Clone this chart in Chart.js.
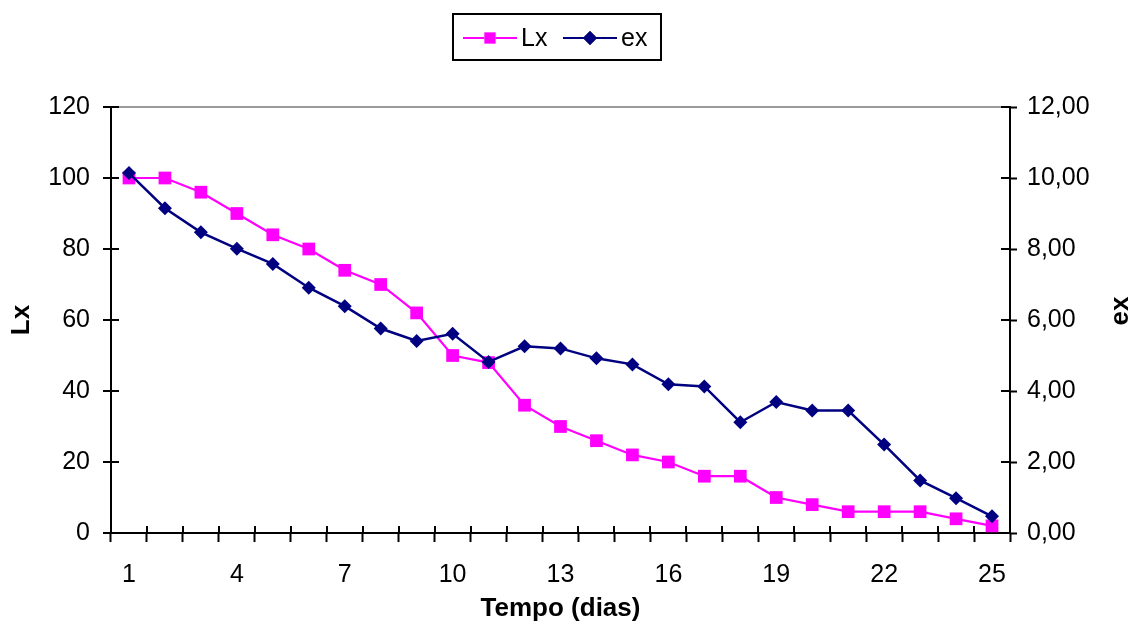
<!DOCTYPE html>
<html>
<head>
<meta charset="utf-8">
<title>Lx e ex</title>
<script src="https://cdn.jsdelivr.net/npm/chart.js@4.4.1/dist/chart.umd.min.js"></script>
<style>
  html, body { margin: 0; padding: 0; background: #ffffff; }
  canvas { display: block; }
</style>
</head>
<body>
<canvas id="chart" width="1131" height="630"></canvas>
<script>
// Dias de observação
const days = ['1','2','3','4','5','6','7','8','9','10','11','12','13','14','15','16','17','18','19','20','21','22','23','24','25'];
// Sobreviventes (Lx)
const lxValues = [100,100,96,90,84,80,74,70,62,50,48,36,30,26,22,20,16,16,10,8,6,6,6,4,2];
// Esperança de vida (ex)
const exValues = [10.14,9.15,8.47,8.01,7.58,6.91,6.39,5.76,5.41,5.61,4.82,5.26,5.20,4.92,4.75,4.19,4.13,3.12,3.69,3.45,3.45,2.49,1.48,0.98,0.47];
// Rótulos mostrados no eixo do tempo
const dayLabels = ['1','4','7','10','13','16','19','22','25'];
// Marcas dos eixos verticais
const lxTicks = [0,20,40,60,80,100,120];
const exTicks = [0,2,4,6,8,10,12];

const FONT = "'Liberation Sans', Arial, sans-serif";
const MAGENTA = '#ff00ff';
const NAVY = '#000080';

// Inner halves of the cross-style tick marks, plus the right axis title
const innerTicks = {
  id: 'innerTicks',
  afterDraw(chart) {
    const ctx = chart.ctx;
    const {x, yLx, yEx} = chart.scales;
    ctx.save();
    ctx.strokeStyle = '#000';
    ctx.lineWidth = 2;
    ctx.beginPath();
    for (let k = 0; k <= days.length; k++) {
      const px = Math.round(x.getPixelForValue(k - 0.5));
      ctx.moveTo(px, x.top);
      ctx.lineTo(px, x.top - 7);
    }
    yLx.ticks.forEach((t, i) => {
      const py = Math.round(yLx.getPixelForTick(i));
      ctx.moveTo(yLx.right, py);
      ctx.lineTo(yLx.right + 8, py);
    });
    yEx.ticks.forEach((t, i) => {
      const py = Math.round(yEx.getPixelForTick(i));
      ctx.moveTo(yEx.left, py);
      ctx.lineTo(yEx.left - 9, py);
    });
    ctx.stroke();

    // right axis title, reading upwards
    ctx.fillStyle = '#000';
    ctx.font = 'bold 26px ' + FONT;
    ctx.textAlign = 'center';
    ctx.textBaseline = 'alphabetic';
    ctx.translate(1128, (yEx.top + yEx.bottom) / 2 - 9);
    ctx.rotate(-Math.PI / 2);
    ctx.fillText('ex', 0, 0);
    ctx.restore();
  }
};

// Boxed legend with line + marker samples
const boxLegend = {
  id: 'boxLegend',
  afterDraw(chart) {
    const ctx = chart.ctx;
    const box = {x: 453, y: 14, w: 208, h: 46};
    ctx.save();
    ctx.fillStyle = '#fff';
    ctx.fillRect(box.x, box.y, box.w, box.h);
    ctx.strokeStyle = '#000';
    ctx.lineWidth = 2;
    ctx.strokeRect(box.x, box.y, box.w, box.h);
    ctx.font = '25px ' + FONT;
    ctx.textBaseline = 'alphabetic';
    ctx.textAlign = 'left';
    const starts = [463, 563];
    chart.data.datasets.forEach((ds, i) => {
      const x0 = starts[i];
      const cy = 38;
      ctx.strokeStyle = ds.borderColor;
      ctx.lineWidth = 2;
      ctx.beginPath();
      ctx.moveTo(x0, cy);
      ctx.lineTo(x0 + 54, cy);
      ctx.stroke();
      Chart.helpers.drawPoint(ctx, {
        pointStyle: ds.pointStyle,
        radius: ds.legendRadius,
        borderWidth: 0,
        rotation: 0
      }, x0 + 27, cy);
      ctx.fillStyle = ds.pointBackgroundColor;
      ctx.fill();
      ctx.fillStyle = '#000';
      ctx.fillText(ds.label, x0 + 58, 46);
    });
    ctx.restore();
  }
};

new Chart(document.getElementById('chart'), {
  type: 'line',
  data: {
    labels: days,
    datasets: [
      {
        label: 'Lx',
        data: lxValues,
        yAxisID: 'yLx',
        borderColor: MAGENTA,
        backgroundColor: MAGENTA,
        pointBackgroundColor: MAGENTA,
        pointBorderColor: MAGENTA,
        borderWidth: 2.2,
        pointStyle: 'rect',
        pointRadius: 9,
        pointBorderWidth: 0,
        legendRadius: 8,
        tension: 0,
        order: 2
      },
      {
        label: 'ex',
        data: exValues,
        yAxisID: 'yEx',
        borderColor: NAVY,
        backgroundColor: NAVY,
        pointBackgroundColor: NAVY,
        pointBorderColor: NAVY,
        borderWidth: 2.5,
        pointStyle: 'rectRot',
        pointRadius: 7,
        pointBorderWidth: 0,
        legendRadius: 7,
        tension: 0,
        order: 1
      }
    ]
  },
  options: {
    responsive: false,
    animation: false,
    events: [],
    layout: { padding: { top: 107, left: 0, right: 0, bottom: 0 } },
    plugins: {
      legend: { display: false },
      tooltip: { enabled: false }
    },
    scales: {
      x: {
        type: 'category',
        offset: true,
        afterFit(s) { s.height = 97; },
        grid: {
          offset: true,
          drawOnChartArea: false,
          tickLength: 9,
          tickColor: '#000',
          tickWidth: 2
        },
        border: { display: true, color: '#000', width: 2 },
        ticks: {
          autoSkip: false,
          maxRotation: 0,
          padding: 18,
          color: '#000',
          font: { family: FONT, size: 25 },
          callback(value, index) {
            const lab = days[index];
            return dayLabels.includes(lab) ? lab : '';
          }
        },
        title: {
          display: true,
          text: 'Tempo (dias)',
          color: '#000',
          font: { family: FONT, size: 26, weight: 'bold' },
          padding: { top: 0, bottom: 6 }
        }
      },
      yLx: {
        type: 'linear',
        position: 'left',
        min: 0,
        max: 120,
        afterFit(s) { s.width = 111; },
        afterBuildTicks(s) { s.ticks = lxTicks.map(v => ({ value: v })); },
        grid: {
          drawOnChartArea: true,
          color: ctx => (ctx.tick && ctx.tick.value === 120) ? '#9a9a9a' : 'rgba(0,0,0,0)',
          lineWidth: 2,
          tickLength: 8,
          tickColor: '#000',
          tickWidth: 2
        },
        border: { display: true, color: '#000', width: 2 },
        ticks: {
          padding: 13,
          color: '#000',
          font: { family: FONT, size: 25 },
          callback: v => String(v)
        },
        title: {
          display: true,
          text: 'Lx',
          color: '#000',
          font: { family: FONT, size: 26, weight: 'bold' },
          padding: { top: 6, bottom: 0 }
        }
      },
      yEx: {
        type: 'linear',
        position: 'right',
        min: 0,
        max: 12,
        afterFit(s) { s.width = 121; },
        afterBuildTicks(s) { s.ticks = exTicks.map(v => ({ value: v })); },
        grid: {
          drawOnChartArea: false,
          tickLength: 7,
          tickColor: '#000',
          tickWidth: 2
        },
        border: { display: true, color: '#000', width: 2 },
        ticks: {
          padding: 10,
          color: '#000',
          font: { family: FONT, size: 25 },
          callback: v => v.toFixed(2).replace('.', ',')
        }
      }
    }
  },
  plugins: [innerTicks, boxLegend]
});
</script>
</body>
</html>
